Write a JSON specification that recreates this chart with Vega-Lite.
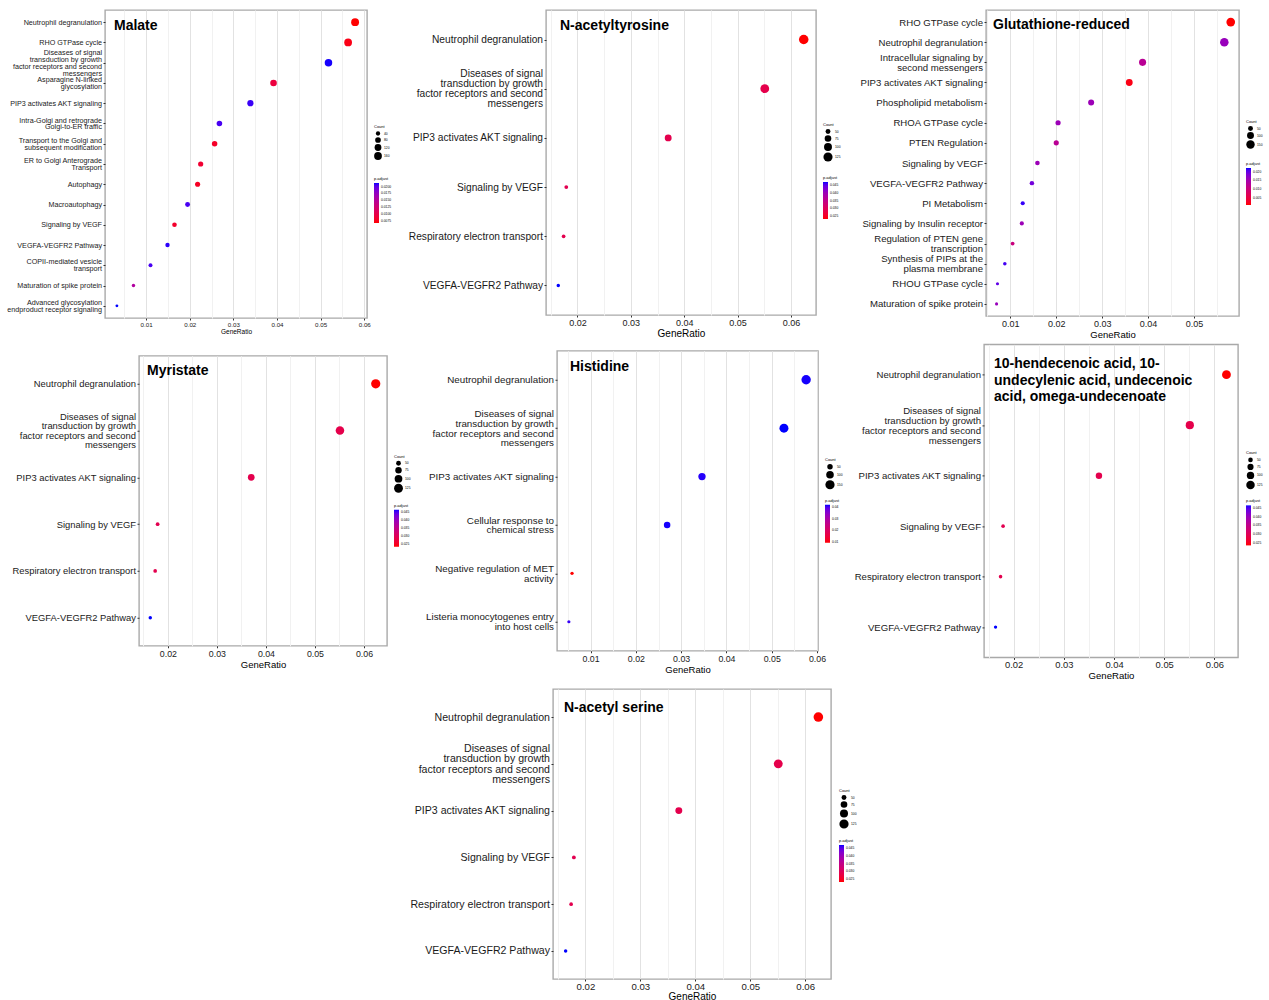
{
  "$schema": "https://vega.github.io/schema/vega-lite/v6.json",
  "padding": {"left": 5, "top": 9, "right": 0, "bottom": 0},
  "background": "white",
  "datasets": {
    "malate": [
      {"term": "Neutrophil degranulation", "GeneRatio": 0.0579, "Count": 165, "padj": 0.0066},
      {"term": "RHO GTPase cycle", "GeneRatio": 0.0563, "Count": 160, "padj": 0.0072},
      {"term": "Diseases of signal|transduction by growth|factor receptors and second|messengers", "GeneRatio": 0.0518, "Count": 148, "padj": 0.0212},
      {"term": "Asparagine N-linked|glycosylation", "GeneRatio": 0.0392, "Count": 112, "padj": 0.0092},
      {"term": "PIP3 activates AKT signaling", "GeneRatio": 0.0339, "Count": 97, "padj": 0.0208},
      {"term": "Intra-Golgi and retrograde|Golgi-to-ER traffic", "GeneRatio": 0.0268, "Count": 76, "padj": 0.0205},
      {"term": "Transport to the Golgi and|subsequent modification", "GeneRatio": 0.0257, "Count": 73, "padj": 0.0080},
      {"term": "ER to Golgi Anterograde|Transport", "GeneRatio": 0.0225, "Count": 64, "padj": 0.0085},
      {"term": "Autophagy", "GeneRatio": 0.0218, "Count": 62, "padj": 0.0078},
      {"term": "Macroautophagy", "GeneRatio": 0.0195, "Count": 56, "padj": 0.0205},
      {"term": "Signaling by VEGF", "GeneRatio": 0.0165, "Count": 47, "padj": 0.0082},
      {"term": "VEGFA-VEGFR2 Pathway", "GeneRatio": 0.0149, "Count": 42, "padj": 0.0210},
      {"term": "COPII-mediated vesicle|transport", "GeneRatio": 0.0110, "Count": 31, "padj": 0.0205},
      {"term": "Maturation of spike protein", "GeneRatio": 0.0071, "Count": 20, "padj": 0.0154},
      {"term": "Advanced glycosylation|endproduct receptor signaling", "GeneRatio": 0.0033, "Count": 9, "padj": 0.0213}
    ],
    "nat": [
      {"term": "Neutrophil degranulation", "GeneRatio": 0.0624, "Count": 134, "padj": 0.0234},
      {"term": "Diseases of signal|transduction by growth|factor receptors and second|messengers", "GeneRatio": 0.0551, "Count": 118, "padj": 0.0288},
      {"term": "PIP3 activates AKT signaling", "GeneRatio": 0.0370, "Count": 80, "padj": 0.0290},
      {"term": "Signaling by VEGF", "GeneRatio": 0.0179, "Count": 38, "padj": 0.0293},
      {"term": "Respiratory electron transport", "GeneRatio": 0.0174, "Count": 37, "padj": 0.0291},
      {"term": "VEGFA-VEGFR2 Pathway", "GeneRatio": 0.0164, "Count": 35, "padj": 0.0466}
    ],
    "glut": [
      {"term": "RHO GTPase cycle", "GeneRatio": 0.0580, "Count": 157, "padj": 0.0010},
      {"term": "Neutrophil degranulation", "GeneRatio": 0.0566, "Count": 153, "padj": 0.0161},
      {"term": "Intracellular signaling by|second messengers", "GeneRatio": 0.0388, "Count": 105, "padj": 0.0126},
      {"term": "PIP3 activates AKT signaling", "GeneRatio": 0.0359, "Count": 97, "padj": 0.0018},
      {"term": "Phospholipid metabolism", "GeneRatio": 0.0276, "Count": 75, "padj": 0.0157},
      {"term": "RHOA GTPase cycle", "GeneRatio": 0.0204, "Count": 55, "padj": 0.0157},
      {"term": "PTEN Regulation", "GeneRatio": 0.0200, "Count": 54, "padj": 0.0126},
      {"term": "Signaling by VEGF", "GeneRatio": 0.0159, "Count": 43, "padj": 0.0157},
      {"term": "VEGFA-VEGFR2 Pathway", "GeneRatio": 0.0147, "Count": 40, "padj": 0.0189},
      {"term": "PI Metabolism", "GeneRatio": 0.0127, "Count": 34, "padj": 0.0214},
      {"term": "Signaling by Insulin receptor", "GeneRatio": 0.0125, "Count": 34, "padj": 0.0157},
      {"term": "Regulation of PTEN gene|transcription", "GeneRatio": 0.0105, "Count": 28, "padj": 0.0105},
      {"term": "Synthesis of PIPs at the|plasma membrane", "GeneRatio": 0.0088, "Count": 24, "padj": 0.0210},
      {"term": "RHOU GTPase cycle", "GeneRatio": 0.0072, "Count": 19, "padj": 0.0199},
      {"term": "Maturation of spike protein", "GeneRatio": 0.0070, "Count": 19, "padj": 0.0161}
    ],
    "hist": [
      {"term": "Neutrophil degranulation", "GeneRatio": 0.0576, "Count": 155, "padj": 0.0418},
      {"term": "Diseases of signal|transduction by growth|factor receptors and second|messengers", "GeneRatio": 0.0527, "Count": 142, "padj": 0.0420},
      {"term": "PIP3 activates AKT signaling", "GeneRatio": 0.0346, "Count": 93, "padj": 0.0415},
      {"term": "Cellular response to|chemical stress", "GeneRatio": 0.0269, "Count": 73, "padj": 0.0418},
      {"term": "Negative regulation of MET|activity", "GeneRatio": 0.0059, "Count": 16, "padj": 0.0094},
      {"term": "Listeria monocytogenes entry|into host cells", "GeneRatio": 0.0052, "Count": 14, "padj": 0.0410}
    ]
  },
  "config": {
    "font": "Liberation Sans",
    "view": {"stroke": "#a9a9a9", "strokeWidth": 1.4},
    "axis": {"domain": false, "labelColor": "#1a1a1a", "tickColor": "#333333", "tickSize": 2, "titleColor": "#000000", "titleFontWeight": "normal", "gridColor": "#e2e2e2", "labelFlush": false, "labelPadding": 1.5, "titlePadding": 1},
    "legend": {"titleFontSize": 4, "labelFontSize": 3.3, "titleFontWeight": "normal", "titleColor": "#000000", "labelColor": "#000000", "gradientThickness": 5, "gradientStrokeWidth": 0, "labelOffset": 2, "titlePadding": 2, "rowPadding": 1, "symbolStrokeWidth": 0, "symbolFillColor": "#000000", "symbolStrokeColor": "#000000", "symbolType": "circle", "labelOverlap": false, "padding": 0},
    "title": {"fontSize": 14, "fontWeight": "bold", "anchor": "start", "frame": "group", "orient": "top", "color": "#000000"}
  },
  "resolve": {"scale": {"x": "independent", "y": "independent", "color": "independent", "size": "independent"}, "legend": {"color": "independent", "size": "independent"}},
  "spacing": 7,
  "vconcat": [
    {
      "spacing": 3,
      "resolve": {"scale": {"x": "independent", "y": "independent", "color": "independent", "size": "independent"}, "legend": {"color": "independent", "size": "independent"}},
      "vconcat": [
        {
          "spacing": 0,
          "resolve": {"scale": {"x": "independent", "y": "independent", "color": "independent", "size": "independent"}, "legend": {"color": "independent", "size": "independent"}},
          "hconcat": [
            {
              "width": 1, "height": 20,
              "view": {"stroke": null},
              "data": {"values": [{}]},
              "mark": {"type": "point", "opacity": 0, "size": 0}
            },
            {
              "width": 262, "height": 308,
              "data": {"name": "malate"},
              "title": {"text": "Malate", "offset": -23, "dx": 9},
              "mark": {"type": "point", "filled": true, "opacity": 1},
              "encoding": {
                "x": {"field": "GeneRatio", "type": "quantitative", "scale": {"domain": [0.00057, 0.06063], "nice": false, "zero": false},
                  "axis": {"title": "GeneRatio", "values": [0.005, 0.01, 0.015, 0.02, 0.025, 0.03, 0.035, 0.04, 0.045, 0.05, 0.055, 0.06], "labelExpr": "round(datum.value*1000) % 10 != 0 ? '' : format(datum.value, '.2f')", "gridColor": {"condition": {"test": "round(datum.value*1000) % 10 != 0", "value": "#f1f1f1"}, "value": "#e2e2e2"}, "tickOpacity": {"condition": {"test": "round(datum.value*1000) % 10 != 0", "value": 0}, "value": 1}, "labelFontSize": 6.2, "titleFontSize": 6.5}},
                "y": {"field": "term", "type": "nominal", "sort": "-x", "scale": {"padding": 0.6},
                  "axis": {"title": null, "labelExpr": "split(datum.label, '|')", "labelFontSize": 7.2, "labelLineHeight": 6.9, "minExtent": 96, "maxExtent": 96,
                    "labelOffset": {"condition": [{"test": "length(split(datum.value, '|')) == 4", "value": -10.35}, {"test": "length(split(datum.value, '|')) == 2", "value": -3.45}], "value": 0}}},
                "size": {"field": "Count", "type": "quantitative", "scale": {"domain": [9, 165], "range": [8, 62]},
                  "legend": {"title": "Count", "values": [40, 80, 120, 160], "orient": "none", "legendX": 269, "legendY": 115, "symbolFillColor": "#000000"}},
                "color": {"field": "padj", "type": "quantitative", "scale": {"domain": [0.0066, 0.0213], "range": ["#ff0000", "#0000ff"], "interpolate": "lab"},
                  "legend": {"title": "p.adjust", "values": [0.0075, 0.01, 0.0125, 0.015, 0.0175, 0.02], "format": ".4f", "orient": "none", "legendX": 269, "legendY": 167, "gradientLength": 40}}
              }
            },
            {
              "width": 270, "height": 305,
              "data": {"name": "nat"},
              "title": {"text": "N-acetyltyrosine", "offset": -23, "dx": 14},
              "mark": {"type": "point", "filled": true, "opacity": 1},
              "encoding": {
                "x": {"field": "GeneRatio", "type": "quantitative", "scale": {"domain": [0.0141, 0.0647], "nice": false, "zero": false},
                  "axis": {"title": "GeneRatio", "values": [0.015, 0.02, 0.025, 0.03, 0.035, 0.04, 0.045, 0.05, 0.055, 0.06], "labelExpr": "round(datum.value*1000) % 10 != 0 ? '' : format(datum.value, '.2f')", "gridColor": {"condition": {"test": "round(datum.value*1000) % 10 != 0", "value": "#f1f1f1"}, "value": "#e2e2e2"}, "tickOpacity": {"condition": {"test": "round(datum.value*1000) % 10 != 0", "value": 0}, "value": 1}, "labelFontSize": 9, "titleFontSize": 10}},
                "y": {"field": "term", "type": "nominal", "sort": "-x", "scale": {"padding": 0.6},
                  "axis": {"title": null, "labelExpr": "split(datum.label, '|')", "labelFontSize": 10.2, "labelLineHeight": 10, "minExtent": 152, "maxExtent": 152,
                    "labelOffset": {"condition": [{"test": "length(split(datum.value, '|')) == 4", "value": -15}, {"test": "length(split(datum.value, '|')) == 2", "value": -5}], "value": 0}}},
                "size": {"field": "Count", "type": "quantitative", "scale": {"domain": [35, 134], "range": [12, 90]},
                  "legend": {"title": "Count", "values": [50, 75, 100, 125], "orient": "none", "legendX": 277, "legendY": 113, "symbolFillColor": "#000000"}},
                "color": {"field": "padj", "type": "quantitative", "scale": {"domain": [0.0234, 0.0466], "range": ["#ff0000", "#0000ff"], "interpolate": "lab"},
                  "legend": {"title": "p.adjust", "values": [0.025, 0.03, 0.035, 0.04, 0.045], "format": ".3f", "orient": "none", "legendX": 277, "legendY": 166, "gradientLength": 37}}
              }
            },
            {
              "width": 253, "height": 306,
              "data": {"name": "glut"},
              "title": {"text": "Glutathione-reduced", "offset": -22, "dx": 7},
              "mark": {"type": "point", "filled": true, "opacity": 1},
              "encoding": {
                "x": {"field": "GeneRatio", "type": "quantitative", "scale": {"domain": [0.0047, 0.0598], "nice": false, "zero": false},
                  "axis": {"title": "GeneRatio", "values": [0.005, 0.01, 0.015, 0.02, 0.025, 0.03, 0.035, 0.04, 0.045, 0.05, 0.055], "labelExpr": "round(datum.value*1000) % 10 != 0 ? '' : format(datum.value, '.2f')", "gridColor": {"condition": {"test": "round(datum.value*1000) % 10 != 0", "value": "#f1f1f1"}, "value": "#e2e2e2"}, "tickOpacity": {"condition": {"test": "round(datum.value*1000) % 10 != 0", "value": 0}, "value": 1}, "labelFontSize": 9, "titleFontSize": 9.5}},
                "y": {"field": "term", "type": "nominal", "sort": "-x", "scale": {"padding": 0.6},
                  "axis": {"title": null, "labelExpr": "split(datum.label, '|')", "labelFontSize": 9.6, "labelLineHeight": 9.6, "minExtent": 143, "maxExtent": 143,
                    "labelOffset": {"condition": [{"test": "length(split(datum.value, '|')) == 4", "value": -14.4}, {"test": "length(split(datum.value, '|')) == 2", "value": -4.8}], "value": 0}}},
                "size": {"field": "Count", "type": "quantitative", "scale": {"domain": [19, 157], "range": [10, 75]},
                  "legend": {"title": "Count", "values": [50, 100, 150], "orient": "none", "legendX": 260, "legendY": 110, "symbolFillColor": "#000000"}},
                "color": {"field": "padj", "type": "quantitative", "scale": {"domain": [0.001, 0.022], "range": ["#ff0000", "#0000ff"], "interpolate": "lab"},
                  "legend": {"title": "p.adjust", "values": [0.005, 0.01, 0.015, 0.02], "format": ".3f", "orient": "none", "legendX": 260, "legendY": 152, "gradientLength": 37}}
              }
            }
          ]
        },
        {
          "spacing": 0,
          "center": true,
          "resolve": {"scale": {"x": "independent", "y": "independent", "color": "independent", "size": "independent"}, "legend": {"color": "independent", "size": "independent"}},
          "hconcat": [
            {
              "width": 1, "height": 20,
              "view": {"stroke": null},
              "data": {"values": [{}]},
              "mark": {"type": "point", "opacity": 0, "size": 0}
            },
            {
              "width": 248, "height": 290,
              "data": {"name": "nat"},
              "title": {"text": "Myristate", "offset": -22, "dx": 8},
              "mark": {"type": "point", "filled": true, "opacity": 1},
              "encoding": {
                "x": {"field": "GeneRatio", "type": "quantitative", "scale": {"domain": [0.0141, 0.0647], "nice": false, "zero": false},
                  "axis": {"title": "GeneRatio", "values": [0.015, 0.02, 0.025, 0.03, 0.035, 0.04, 0.045, 0.05, 0.055, 0.06], "labelExpr": "round(datum.value*1000) % 10 != 0 ? '' : format(datum.value, '.2f')", "gridColor": {"condition": {"test": "round(datum.value*1000) % 10 != 0", "value": "#f1f1f1"}, "value": "#e2e2e2"}, "tickOpacity": {"condition": {"test": "round(datum.value*1000) % 10 != 0", "value": 0}, "value": 1}, "labelFontSize": 8.8, "titleFontSize": 9.5}},
                "y": {"field": "term", "type": "nominal", "sort": "-x", "scale": {"padding": 0.6},
                  "axis": {"title": null, "labelExpr": "split(datum.label, '|')", "labelFontSize": 9.4, "labelLineHeight": 9.4, "minExtent": 132, "maxExtent": 132,
                    "labelOffset": {"condition": [{"test": "length(split(datum.value, '|')) == 4", "value": -14.1}, {"test": "length(split(datum.value, '|')) == 2", "value": -4.7}], "value": 0}}},
                "size": {"field": "Count", "type": "quantitative", "scale": {"domain": [35, 134], "range": [12, 85]},
                  "legend": {"title": "Count", "values": [50, 75, 100, 125], "orient": "none", "legendX": 255, "legendY": 99, "symbolFillColor": "#000000"}},
                "color": {"field": "padj", "type": "quantitative", "scale": {"domain": [0.0234, 0.0466], "range": ["#ff0000", "#0000ff"], "interpolate": "lab"},
                  "legend": {"title": "p.adjust", "values": [0.025, 0.03, 0.035, 0.04, 0.045], "format": ".3f", "orient": "none", "legendX": 255, "legendY": 148, "gradientLength": 37}}
              }
            },
            {
              "width": 261, "height": 300,
              "data": {"name": "hist"},
              "title": {"text": "Histidine", "offset": -23, "dx": 13},
              "mark": {"type": "point", "filled": true, "opacity": 1},
              "encoding": {
                "x": {"field": "GeneRatio", "type": "quantitative", "scale": {"domain": [0.00258, 0.06022], "nice": false, "zero": false},
                  "axis": {"title": "GeneRatio", "values": [0.005, 0.01, 0.015, 0.02, 0.025, 0.03, 0.035, 0.04, 0.045, 0.05, 0.055, 0.06], "labelExpr": "round(datum.value*1000) % 10 != 0 ? '' : format(datum.value, '.2f')", "gridColor": {"condition": {"test": "round(datum.value*1000) % 10 != 0", "value": "#f1f1f1"}, "value": "#e2e2e2"}, "tickOpacity": {"condition": {"test": "round(datum.value*1000) % 10 != 0", "value": 0}, "value": 1}, "labelFontSize": 8.8, "titleFontSize": 9.5}},
                "y": {"field": "term", "type": "nominal", "sort": "-x", "scale": {"padding": 0.6},
                  "axis": {"title": null, "labelExpr": "split(datum.label, '|')", "labelFontSize": 9.8, "labelLineHeight": 9.8, "minExtent": 144, "maxExtent": 144,
                    "labelOffset": {"condition": [{"test": "length(split(datum.value, '|')) == 4", "value": -14.7}, {"test": "length(split(datum.value, '|')) == 2", "value": -4.9}], "value": 0}}},
                "size": {"field": "Count", "type": "quantitative", "scale": {"domain": [14, 155], "range": [10, 88]},
                  "legend": {"title": "Count", "values": [50, 100, 150], "orient": "none", "legendX": 268, "legendY": 107, "symbolFillColor": "#000000"}},
                "color": {"field": "padj", "type": "quantitative", "scale": {"domain": [0.0094, 0.042], "range": ["#ff0000", "#0000ff"], "interpolate": "lab"},
                  "legend": {"title": "p.adjust", "values": [0.01, 0.02, 0.03, 0.04], "format": ".2f", "orient": "none", "legendX": 268, "legendY": 148, "gradientLength": 38}}
              }
            },
            {
              "width": 254, "height": 313,
              "data": {"name": "nat"},
              "title": {"text": ["10-hendecenoic acid, 10-", "undecylenic acid, undecenoic", "acid, omega-undecenoate"], "offset": -60, "dx": 10, "lineHeight": 16.7},
              "mark": {"type": "point", "filled": true, "opacity": 1},
              "encoding": {
                "x": {"field": "GeneRatio", "type": "quantitative", "scale": {"domain": [0.0141, 0.0647], "nice": false, "zero": false},
                  "axis": {"title": "GeneRatio", "values": [0.015, 0.02, 0.025, 0.03, 0.035, 0.04, 0.045, 0.05, 0.055, 0.06], "labelExpr": "round(datum.value*1000) % 10 != 0 ? '' : format(datum.value, '.2f')", "gridColor": {"condition": {"test": "round(datum.value*1000) % 10 != 0", "value": "#f1f1f1"}, "value": "#e2e2e2"}, "tickOpacity": {"condition": {"test": "round(datum.value*1000) % 10 != 0", "value": 0}, "value": 1}, "labelFontSize": 9.4, "titleFontSize": 9.6}},
                "y": {"field": "term", "type": "nominal", "sort": "-x", "scale": {"padding": 0.6},
                  "axis": {"title": null, "labelExpr": "split(datum.label, '|')", "labelFontSize": 9.6, "labelLineHeight": 9.9, "minExtent": 139, "maxExtent": 139,
                    "labelOffset": {"condition": [{"test": "length(split(datum.value, '|')) == 4", "value": -14.85}, {"test": "length(split(datum.value, '|')) == 2", "value": -4.95}], "value": 0}}},
                "size": {"field": "Count", "type": "quantitative", "scale": {"domain": [35, 134], "range": [11, 78]},
                  "legend": {"title": "Count", "values": [50, 75, 100, 125], "orient": "none", "legendX": 262, "legendY": 107, "symbolFillColor": "#000000"}},
                "color": {"field": "padj", "type": "quantitative", "scale": {"domain": [0.0234, 0.0466], "range": ["#ff0000", "#0000ff"], "interpolate": "lab"},
                  "legend": {"title": "p.adjust", "values": [0.025, 0.03, 0.035, 0.04, 0.045], "format": ".3f", "orient": "none", "legendX": 262, "legendY": 155, "gradientLength": 40}}
              }
            }
          ]
        }
      ]
    },
    {
      "spacing": 0,
      "resolve": {"scale": {"x": "independent", "y": "independent", "color": "independent", "size": "independent"}, "legend": {"color": "independent", "size": "independent"}},
      "hconcat": [
        {
          "width": 402, "height": 20,
          "view": {"stroke": null},
          "data": {"values": [{}]},
          "mark": {"type": "point", "opacity": 0, "size": 0}
        },
        {
          "width": 278, "height": 290,
          "data": {"name": "nat"},
          "title": {"text": "N-acetyl serine", "offset": -26, "dx": 11},
          "mark": {"type": "point", "filled": true, "opacity": 1},
          "encoding": {
            "x": {"field": "GeneRatio", "type": "quantitative", "scale": {"domain": [0.0141, 0.0647], "nice": false, "zero": false},
              "axis": {"title": "GeneRatio", "values": [0.015, 0.02, 0.025, 0.03, 0.035, 0.04, 0.045, 0.05, 0.055, 0.06], "labelExpr": "round(datum.value*1000) % 10 != 0 ? '' : format(datum.value, '.2f')", "gridColor": {"condition": {"test": "round(datum.value*1000) % 10 != 0", "value": "#f1f1f1"}, "value": "#e2e2e2"}, "tickOpacity": {"condition": {"test": "round(datum.value*1000) % 10 != 0", "value": 0}, "value": 1}, "labelFontSize": 9.6, "titleFontSize": 10, "labelPadding": 0.5, "titlePadding": 0}},
            "y": {"field": "term", "type": "nominal", "sort": "-x", "scale": {"padding": 0.6},
              "axis": {"title": null, "labelExpr": "split(datum.label, '|')", "labelFontSize": 10.6, "labelLineHeight": 10.4, "minExtent": 145, "maxExtent": 145,
                "labelOffset": {"condition": [{"test": "length(split(datum.value, '|')) == 4", "value": -15.6}, {"test": "length(split(datum.value, '|')) == 2", "value": -5.2}], "value": 0}}},
            "size": {"field": "Count", "type": "quantitative", "scale": {"domain": [35, 134], "range": [12, 92]},
              "legend": {"title": "Count", "values": [50, 75, 100, 125], "orient": "none", "legendX": 286, "legendY": 100, "symbolFillColor": "#000000"}},
            "color": {"field": "padj", "type": "quantitative", "scale": {"domain": [0.0234, 0.0466], "range": ["#ff0000", "#0000ff"], "interpolate": "lab"},
              "legend": {"title": "p.adjust", "values": [0.025, 0.03, 0.035, 0.04, 0.045], "format": ".3f", "orient": "none", "legendX": 286, "legendY": 150, "gradientLength": 37}}
          }
        }
      ]
    }
  ]
}
